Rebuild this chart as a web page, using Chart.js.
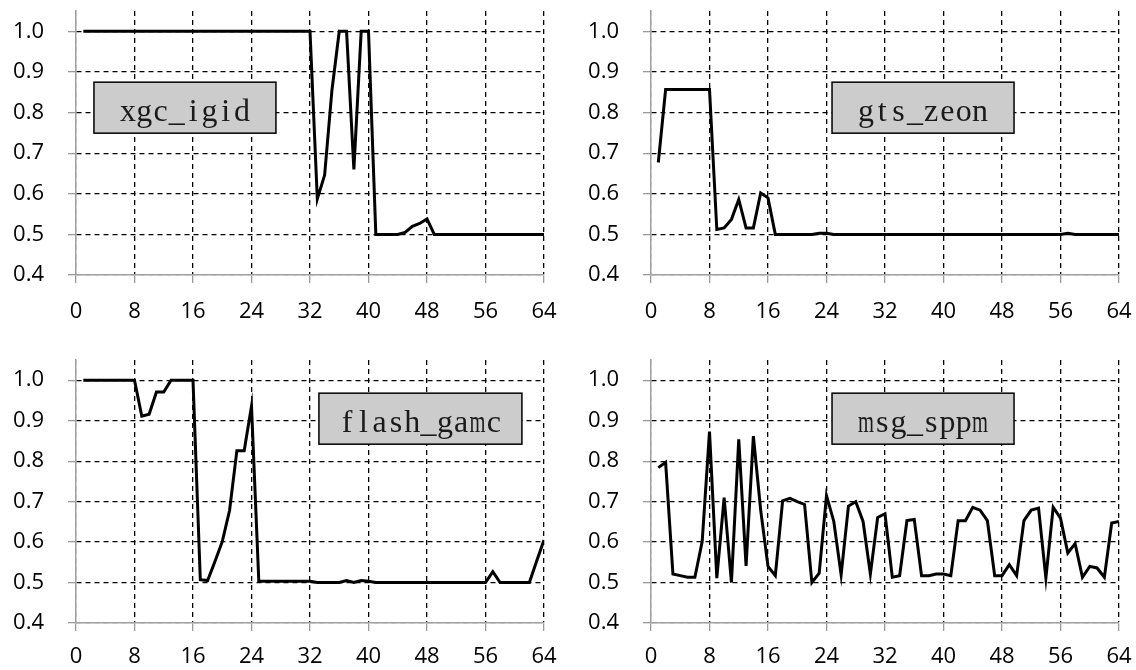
<!DOCTYPE html>
<html lang="en">
<head>
<meta charset="UTF-8">
<title>Four panels</title>
<script src="https://cdn.jsdelivr.net/npm/chart.js"></script>
<style>
    body {
        margin: 0;
        background: #fff;
        width: 1136px;
        height: 670px;
        overflow: hidden;
        position: relative;
    }
    .panel { position: absolute; }
    #p1 { left: 0;     top: 0;     width: 561px; height: 340px; }
    #p2 { left: 575px; top: 0;     width: 561px; height: 340px; }
    #p3 { left: 0;     top: 340px; width: 561px; height: 330px; }
    #p4 { left: 575px; top: 340px; width: 561px; height: 330px; }
</style>
</head>
<body>
<div class="panel" id="p1"><canvas id="c1"></canvas></div>
<div class="panel" id="p2"><canvas id="c2"></canvas></div>
<div class="panel" id="p3"><canvas id="c3"></canvas></div>
<div class="panel" id="p4"><canvas id="c4"></canvas></div>

<script>
// x positions of the points
const steps = [1, 2, 3, 4, 5, 6, 7, 8, 9, 10, 11, 12, 13, 14, 15, 16,
    17, 18, 19, 20, 21, 22, 23, 24, 25, 26, 27, 28, 29, 30, 31, 32,
    33, 34, 35, 36, 37, 38, 39, 40, 41, 42, 43, 44, 45, 46, 47, 48,
    49, 50, 51, 52, 53, 54, 55, 56, 57, 58, 59, 60, 61, 62, 63, 64];

const xgcIgid = [1, 1, 1, 1, 1, 1, 1, 1, 1, 1, 1, 1, 1, 1, 1, 1,
    1, 1, 1, 1, 1, 1, 1, 1, 1, 1, 1, 1, 1, 1, 1, 1,
    0.587, 0.646, 0.855, 1, 1, 0.66, 1, 1, 0.5, 0.5, 0.5, 0.5, 0.505, 0.52, 0.527, 0.538,
    0.5, 0.5, 0.5, 0.5, 0.5, 0.5, 0.5, 0.5, 0.5, 0.5, 0.5, 0.5, 0.5, 0.5, 0.5, 0.5];

const gtsZeon = [0.677, 0.857, 0.857, 0.857, 0.857, 0.857, 0.857, 0.857,
    0.512, 0.516, 0.537, 0.586, 0.516, 0.516, 0.602, 0.59,
    0.5, 0.5, 0.5, 0.5, 0.5, 0.5, 0.503, 0.503,
    0.5, 0.5, 0.5, 0.5, 0.5, 0.5, 0.5, 0.5, 0.5, 0.5, 0.5, 0.5, 0.5, 0.5, 0.5, 0.5,
    0.5, 0.5, 0.5, 0.5, 0.5, 0.5, 0.5, 0.5, 0.5, 0.5, 0.5, 0.5, 0.5, 0.5, 0.5, 0.5,
    0.503, 0.5, 0.5, 0.5, 0.5, 0.5, 0.5, 0.5];

const flashGamc = [1, 1, 1, 1, 1, 1, 1, 1,
    0.911, 0.916, 0.971, 0.971, 1, 1, 1, 1,
    0.507, 0.505, 0.552, 0.601, 0.678, 0.826, 0.826, 0.936,
    0.503, 0.503, 0.503, 0.503, 0.503, 0.503, 0.503, 0.503,
    0.5, 0.5, 0.5, 0.5, 0.505, 0.5, 0.505, 0.503,
    0.5, 0.5, 0.5, 0.5, 0.5, 0.5, 0.5, 0.5, 0.5, 0.5, 0.5, 0.5, 0.5, 0.5, 0.5, 0.5,
    0.527, 0.5, 0.5, 0.5, 0.5, 0.5, 0.553, 0.605];

const msgSppm = [0.784, 0.797, 0.521, 0.517, 0.513, 0.513, 0.601, 0.873,
    0.511, 0.71, 0.5, 0.854, 0.541, 0.862, 0.679, 0.54,
    0.517, 0.702, 0.708, 0.7, 0.693, 0.5, 0.523, 0.715,
    0.651, 0.519, 0.689, 0.7, 0.651, 0.521, 0.661, 0.67,
    0.513, 0.517, 0.653, 0.656, 0.517, 0.517, 0.521, 0.521,
    0.517, 0.653, 0.653, 0.686, 0.679, 0.653, 0.517, 0.517,
    0.544, 0.517, 0.653, 0.679, 0.684, 0.511, 0.686, 0.659,
    0.573, 0.596, 0.513, 0.54, 0.536, 0.513, 0.647, 0.651];

const panelNames = ['xgc_igid', 'gts_zeon', 'flash_gamc', 'msg_sppm'];
const xTicks = [0, 8, 16, 24, 32, 40, 48, 56, 64];
const yTicks = [0.4, 0.5, 0.6, 0.7, 0.8, 0.9, 1.0];

Chart.defaults.font.family = '"Open Sans", sans-serif';
Chart.defaults.font.size = 22;
Chart.defaults.color = '#000';

// grey box with the benchmark name, serif text on a fixed pitch
const labelBox = {
    id: 'labelBox',
    afterDatasetsDraw(chart, args, opts) {
        const { ctx, scales: { x, y } } = chart;
        const cx = x.getPixelForValue(opts.x);
        const cy = y.getPixelForValue(opts.y);
        ctx.save();
        ctx.fillStyle = '#cccccc';
        ctx.strokeStyle = '#000';
        ctx.lineWidth = 1.5;
        ctx.fillRect(cx - opts.w / 2, cy - opts.h / 2, opts.w, opts.h);
        ctx.strokeRect(cx - opts.w / 2, cy - opts.h / 2, opts.w, opts.h);
        ctx.fillStyle = '#1a1a1a';
        ctx.font = '32px "Liberation Serif", serif';
        ctx.textAlign = 'center';
        ctx.textBaseline = 'alphabetic';
        const pitch = 16.3;
        const chars = opts.text.split('');
        let px = cx - pitch * chars.length / 2 + pitch / 2;
        chars.forEach(ch => {
            const w = ctx.measureText(ch).width;
            const k = Math.min(1, (pitch * 0.98) / w);
            ctx.save();
            ctx.translate(px, cy + 13.5);
            ctx.scale(k, 1);
            ctx.fillText(ch, 0, 0);
            ctx.restore();
            px += pitch;
        });
        ctx.restore();
    }
};

function edgeColor(c, edge) {
    return c.tick && Math.abs(c.tick.value - edge) < 1e-9 ? '#9a9a9a' : '#000';
}

function makePanel(id, values, name, box, pad) {
    new Chart(document.getElementById(id), {
        type: 'line',
        data: {
            datasets: [{
                label: name,
                data: steps.map((s, i) => ({ x: s, y: values[i] })),
                borderColor: '#000',
                borderWidth: 3,
                pointRadius: 0,
                tension: 0,
                fill: false
            }]
        },
        options: {
            responsive: true,
            maintainAspectRatio: false,
            animation: false,
            layout: { padding: { top: pad.top, right: pad.right, bottom: pad.bottom, left: 0 } },
            plugins: {
                legend: { display: false },
                tooltip: { enabled: false },
                labelBox: Object.assign({ text: name }, box)
            },
            scales: {
                x: {
                    type: 'linear',
                    min: xTicks[0],
                    max: xTicks[xTicks.length - 1],
                    afterFit(s) {
                        s.height = pad.xh;
                        s.paddingLeft = 0;
                        s.paddingRight = 0;
                    },
                    ticks: { stepSize: 8, padding: pad.tp, maxRotation: 0 },
                    grid: {
                        color: c => edgeColor(c, 0),
                        lineWidth: 1.3,
                        tickColor: '#9a9a9a',
                        tickLength: 8
                    },
                    border: { color: '#a0a0a0', width: 1.5, dash: [5, 4] }
                },
                y: {
                    min: yTicks[0],
                    max: 1.05,
                    bounds: 'data',
                    afterFit(s) {
                        s.width = 76;
                        s.paddingTop = 0;
                        s.paddingBottom = 0;
                    },
                    ticks: {
                        stepSize: 0.1,
                        includeBounds: false,
                        padding: 24,
                        callback: v => v.toFixed(1)
                    },
                    grid: {
                        color: c => edgeColor(c, 0.4),
                        lineWidth: 1.3,
                        tickColor: '#9a9a9a',
                        tickLength: 8
                    },
                    border: { color: '#a0a0a0', width: 1.5, dash: [5, 4] }
                }
            }
        },
        plugins: [labelBox]
    });
}

const topPad = { top: 11, right: 17, bottom: 15, xh: 50, tp: 16 };
const botPad = { top: 20, right: 17, bottom: 7, xh: 40, tp: 13 };

makePanel('c1', xgcIgid, panelNames[0], { x: 14.9, y: 0.812, w: 182, h: 51 }, topPad);
makePanel('c2', gtsZeon, panelNames[1], { x: 37.2, y: 0.812, w: 182, h: 51 }, topPad);
makePanel('c3', flashGamc, panelNames[2], { x: 47.1, y: 0.905, w: 203, h: 51 }, botPad);
makePanel('c4', msgSppm, panelNames[3], { x: 37.2, y: 0.905, w: 182, h: 51 }, botPad);
</script>
</body>
</html>
